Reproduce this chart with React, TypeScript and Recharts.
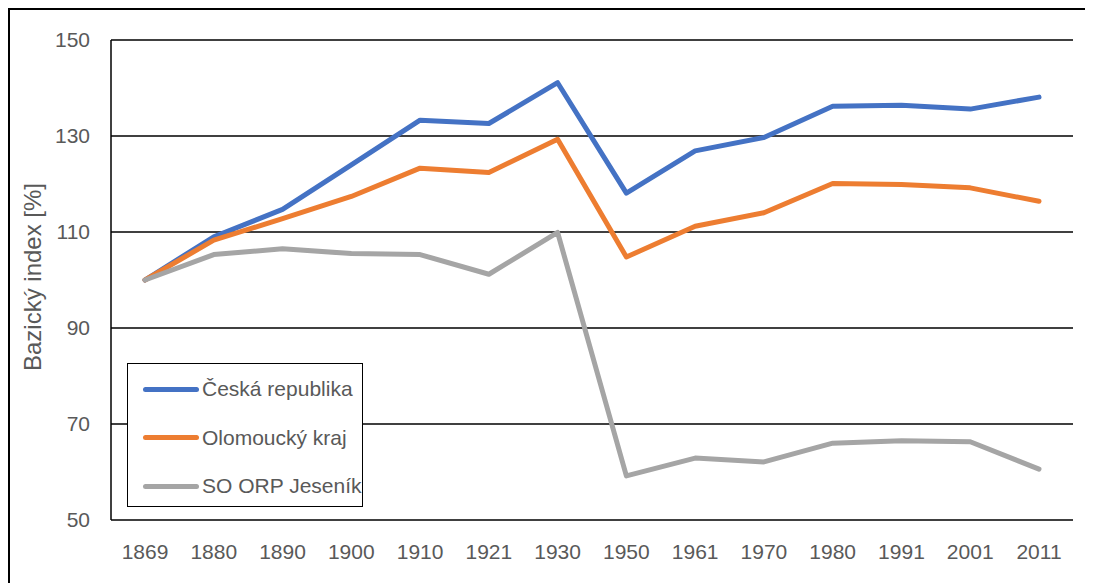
import { LineChart, Line, XAxis, YAxis, CartesianGrid, Legend } from 'recharts';

const years = ['1869', '1880', '1890', '1900', '1910', '1921', '1930', '1950', '1961', '1970', '1980', '1991', '2001', '2011'];
const ceskaRepublika = [100, 109.0, 114.7, 124.0, 133.3, 132.6, 141.1, 118.1, 126.9, 129.7, 136.2, 136.4, 135.6, 138.1];
const olomouckyKraj = [100, 108.3, 112.8, 117.4, 123.3, 122.4, 129.3, 104.8, 111.2, 114.0, 120.1, 119.9, 119.2, 116.4];
const orpJesenik = [100, 105.3, 106.5, 105.5, 105.3, 101.2, 109.9, 59.2, 62.9, 62.1, 66.0, 66.5, 66.3, 60.6];
const seriesNames = ['Česká republika', 'Olomoucký kraj', 'SO ORP Jeseník'];
const yTicks = [50, 70, 90, 110, 130, 150];

const data = years.map((year, i) => ({
  year,
  cr: ceskaRepublika[i],
  ok: olomouckyKraj[i],
  jes: orpJesenik[i],
}));

const font = '"Liberation Sans", Arial, sans-serif';
const textColor = '#595959';

function LegendBox({ payload }: any) {
  return (
    <div
      style={{
        border: '1.5px solid #000',
        background: '#fff',
        width: 236,
        height: 144,
        boxSizing: 'border-box',
        paddingTop: 1,
        fontFamily: font,
      }}
    >
      {(payload || []).map((entry: any) => (
        <div key={entry.value} style={{ display: 'flex', alignItems: 'center', height: 48.5 }}>
          <span
            style={{
              display: 'inline-block',
              width: 56,
              height: 5,
              borderRadius: 3,
              background: entry.color,
              marginLeft: 15,
              marginRight: 3,
            }}
          />
          <span style={{ fontSize: 21, color: textColor }}>{entry.value}</span>
        </div>
      ))}
    </div>
  );
}

export default function App() {
  return (
    <div
      style={{
        position: 'relative',
        width: 1083,
        height: 575,
        borderLeft: '2px solid #000',
        borderTop: '2px solid #000',
        background: '#fff',
        overflow: 'hidden',
      }}
    >
      <LineChart width={1076} height={573} data={data} margin={{ top: 30, right: 13, bottom: 23, left: 0 }}>
        <CartesianGrid vertical={false} stroke="#000" strokeWidth={1.5} />
        <XAxis
          dataKey="year"
          axisLine={false}
          tickLine={false}
          tickSize={0}
          tickMargin={24}
          height={40}
          padding={{ left: 34, right: 34 }}
          interval={0}
          tick={{ fill: textColor, fontSize: 21, fontFamily: font }}
        />
        <YAxis
          domain={[50, 150]}
          ticks={yTicks}
          width={101}
          axisLine={{ stroke: '#000', strokeWidth: 1.5 }}
          tickLine={false}
          tickSize={0}
          tickMargin={21}
          tick={{ fill: textColor, fontSize: 21, fontFamily: font }}
          label={{
            value: 'Bazický index [%]',
            angle: -90,
            position: 'insideLeft',
            offset: 22,
            dy: -3,
            style: { textAnchor: 'middle', fill: textColor, fontSize: 24, fontFamily: font },
          }}
        />
        <YAxis
          yAxisId="r"
          orientation="right"
          domain={[50, 150]}
          width={0}
          tick={false}
          tickLine={false}
          axisLine={{ stroke: '#000', strokeWidth: 1.5 }}
        />
        <Legend
          layout="vertical"
          align="center"
          verticalAlign="middle"
          itemSorter={(item: any) => seriesNames.indexOf(item.value)}
          content={<LegendBox />}
          wrapperStyle={{ left: 117, top: 353, width: 236, height: 144 }}
        />
        <Line dataKey="cr" name={seriesNames[0]} stroke="#4472C4" strokeWidth={5} dot={false} strokeLinejoin="round" strokeLinecap="round" isAnimationActive={false} />
        <Line dataKey="ok" name={seriesNames[1]} stroke="#ED7D31" strokeWidth={5} dot={false} strokeLinejoin="round" strokeLinecap="round" isAnimationActive={false} />
        <Line dataKey="jes" name={seriesNames[2]} stroke="#A5A5A5" strokeWidth={5} dot={false} strokeLinejoin="round" strokeLinecap="round" isAnimationActive={false} />
      </LineChart>
    </div>
  );
}
